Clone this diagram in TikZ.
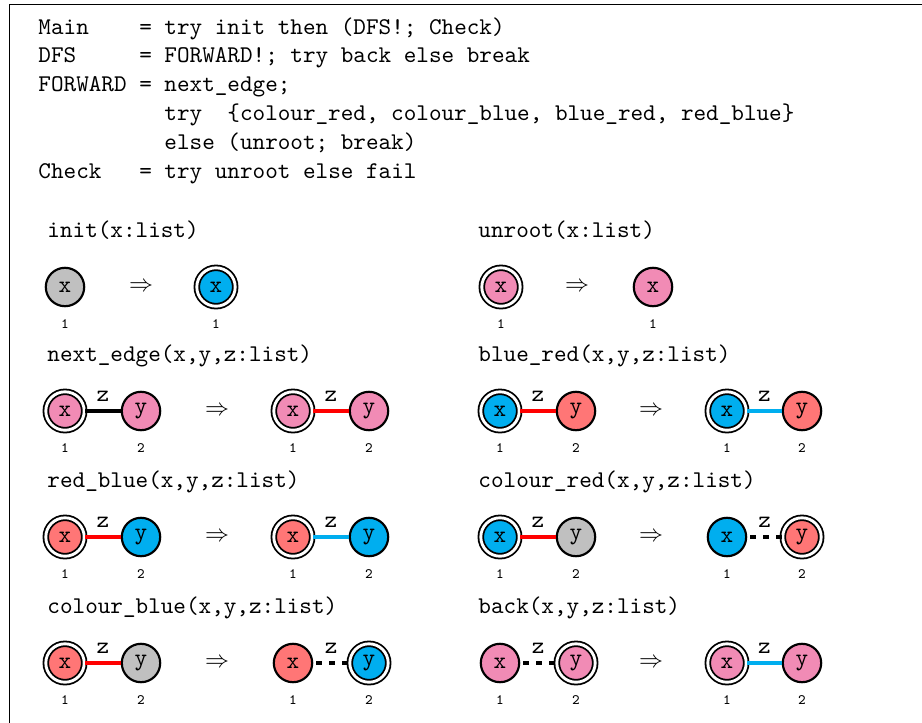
\documentclass[tikz,border=0pt]{standalone}
\usepackage{tikz}
\usetikzlibrary{positioning}
\definecolor{nodegrey}{HTML}{C0C0C0}
\definecolor{nodeblue}{HTML}{00AEEF}
\definecolor{nodepink}{HTML}{F18BB5}
\definecolor{nodered}{HTML}{FF7676}
\definecolor{edgered}{HTML}{FF0000}

\begin{document}
\begin{tikzpicture}[x=0.41667pt, y=-0.41667pt,
        vtx/.style={circle, draw, line width=0.9pt, minimum size=16pt, inner sep=0pt, font=\ttfamily},
        root/.style={vtx, double, line width=0.75pt, double distance=1.2pt},
        gv/.style={fill=nodegrey}, bv/.style={fill=nodeblue},
        pv/.style={fill=nodepink}, rv/.style={fill=nodered},
        every label/.style={font=\ttfamily\fontsize{6}{7}\selectfont, inner sep=1.5pt, yshift=-3.4pt},
        zedge/.style={line width=1.4pt},
        redge/.style={zedge, draw=edgered},
        bedge/.style={zedge, draw=nodeblue},
        dedge/.style={zedge, dash pattern=on 2.4pt off 3pt, dash phase=-1.2pt},
        zlab/.style={above, font=\ttfamily},
        imp/.style={inner sep=0pt},
        rtitle/.style={anchor=base west, inner sep=0pt, font=\ttfamily}]
        \useasboundingbox (0,0) rectangle (922,723);
        \draw[line width=0.8pt] (9.5,723) |- (922,4.5);

        \node[anchor=base west, inner sep=0pt, font=\ttfamily] (prog) at (38,34) {\begin{tabular}[t]{@{}l@{ }l@{ }l@{}}
            Main & = & try init then (DFS!; Check)\\
            DFS & = & FORWARD!; try back else break\\
            FORWARD & = & next\_edge;\\
             & & try~~\{colour\_red, colour\_blue, blue\_red, red\_blue\}\\
             & & else (unroot; break)\\
            Check & = & try unroot else fail
        \end{tabular}};

        \node[rtitle] (tinit) at (47,237) {init(x:list)};
        \node[vtx, gv, label=below:1] (i1) at (65,287) {x};
        \node[imp] (ia) at (141,287) {$\Rightarrow$};
        \node[root, bv, label=below:1] (i2) at (216,287) {x};

        \node[rtitle] (tunroot) at (478,237) {unroot(x:list)};
        \node[root, pv, label=below:1] (u1) at (501,287) {x};
        \node[imp] (ua) at (577,287) {$\Rightarrow$};
        \node[vtx, pv, label=below:1] (u2) at (653,287) {x};

        \node[rtitle] (tnext) at (47,361) {next\_edge(x,y,z:list)};
        \node[root, pv, label=below:1] (nx1) at (65,411) {x};
        \node[vtx, pv, label=below:2] (ny1) at (141,411) {y};
        \node[imp] (na) at (217,411) {$\Rightarrow$};
        \node[root, pv, label=below:1] (nx2) at (293,411) {x};
        \node[vtx, pv, label=below:2] (ny2) at (369,411) {y};
        \draw[zedge] (nx1) -- node[zlab] {z} (ny1);
        \draw[redge] (nx2) -- node[zlab] {z} (ny2);

        \node[rtitle] (tbluered) at (478,361) {blue\_red(x,y,z:list)};
        \node[root, bv, label=below:1] (bx1) at (500,411) {x};
        \node[vtx, rv, label=below:2] (by1) at (576,411) {y};
        \node[imp] (ba) at (651,411) {$\Rightarrow$};
        \node[root, bv, label=below:1] (bx2) at (727,411) {x};
        \node[vtx, rv, label=below:2] (by2) at (802,411) {y};
        \draw[redge] (bx1) -- node[zlab] {z} (by1);
        \draw[bedge] (bx2) -- node[zlab] {z} (by2);

        \node[rtitle] (tredblue) at (47,487) {red\_blue(x,y,z:list)};
        \node[root, rv, label=below:1] (rx1) at (65,537) {x};
        \node[vtx, bv, label=below:2] (ry1) at (141,537) {y};
        \node[imp] (ra) at (217,537) {$\Rightarrow$};
        \node[root, rv, label=below:1] (rx2) at (293,537) {x};
        \node[vtx, bv, label=below:2] (ry2) at (369,537) {y};
        \draw[redge] (rx1) -- node[zlab] {z} (ry1);
        \draw[bedge] (rx2) -- node[zlab] {z} (ry2);

        \node[rtitle] (tcolred) at (478,487) {colour\_red(x,y,z:list)};
        \node[root, bv, label=below:1] (cx1) at (500,537) {x};
        \node[vtx, gv, label=below:2] (cy1) at (576,537) {y};
        \node[imp] (ca) at (651,537) {$\Rightarrow$};
        \node[vtx, bv, label=below:1] (cx2) at (727,537) {x};
        \node[root, rv, label=below:2] (cy2) at (802,537) {y};
        \draw[redge] (cx1) -- node[zlab] {z} (cy1);
        \draw[dedge] (cx2) -- node[zlab] {z} (cy2);

        \node[rtitle] (tcolblue) at (47,613) {colour\_blue(x,y,z:list)};
        \node[root, rv, label=below:1] (kx1) at (65,663) {x};
        \node[vtx, gv, label=below:2] (ky1) at (141,663) {y};
        \node[imp] (ka) at (217,663) {$\Rightarrow$};
        \node[vtx, rv, label=below:1] (kx2) at (293,663) {x};
        \node[root, bv, label=below:2] (ky2) at (369,663) {y};
        \draw[redge] (kx1) -- node[zlab] {z} (ky1);
        \draw[dedge] (kx2) -- node[zlab] {z} (ky2);

        \node[rtitle] (tback) at (478,613) {back(x,y,z:list)};
        \node[vtx, pv, label=below:1] (hx1) at (500,663) {x};
        \node[root, pv, label=below:2] (hy1) at (576,663) {y};
        \node[imp] (ha) at (651,663) {$\Rightarrow$};
        \node[root, pv, label=below:1] (hx2) at (727,663) {x};
        \node[vtx, pv, label=below:2] (hy2) at (802,663) {y};
        \draw[dedge] (hx1) -- node[zlab] {z} (hy1);
        \draw[bedge] (hx2) -- node[zlab] {z} (hy2);
    \end{tikzpicture}
\end{document}
